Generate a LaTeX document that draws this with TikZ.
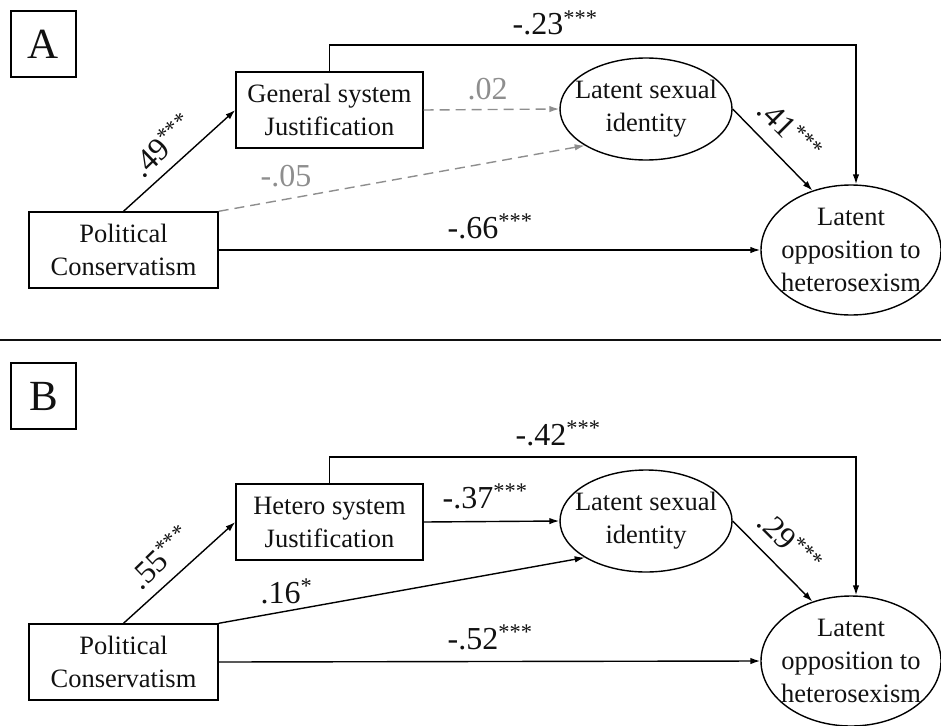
\documentclass[tikz,border=0pt]{standalone}
\usepackage{fontspec}
\setmainfont{Liberation Serif}
\usetikzlibrary{shapes.geometric,arrows.meta}
\definecolor{FontColor}{HTML}{111111}
\definecolor{GrayPath}{HTML}{8E8E8E}
\newcommand\nodepc{Political\\Conservatism}
\newcommand\nodegsj{General system\\Justification}
\newcommand\nodehsj{Hetero system\\Justification}
\newcommand\nodelsi{Latent sexual\\identity}
\newcommand\nodelo{Latent\\opposition to\\heterosexism}
\newcommand\sig[1]{\textsuperscript{#1}}
\tikzstyle{boxnode} = [rectangle, draw, align=center, text=FontColor, inner sep=0pt, font=\fontsize{26.5}{33}\selectfont]
\tikzstyle{pcbox} = [boxnode, minimum width=189pt, minimum height=76pt]
\tikzstyle{sjbox} = [boxnode, minimum width=187pt, minimum height=76pt]
\tikzstyle{panel} = [boxnode, minimum width=65pt, minimum height=66pt, font=\fontsize{43}{45}\selectfont]
\tikzstyle{lat} = [ellipse, draw, align=center, text=FontColor, inner xsep=-15pt, inner ysep=-10pt, font=\fontsize{26.5}{33}\selectfont]
\tikzstyle{lsi} = [lat, minimum width=172pt, minimum height=102pt]
\tikzstyle{lo} = [lat, minimum width=180pt, minimum height=130pt]
\tikzstyle{coef} = [inner sep=0pt, anchor=base west, text=FontColor, font=\fontsize{32}{34}\selectfont]
\tikzstyle{ns} = [coef, text=GrayPath]
\tikzstyle{tilted} = [inner sep=0pt, text=FontColor, font=\fontsize{32}{34}\selectfont]
\tikzstyle{nspath} = [GrayPath, dash pattern=on 10pt off 6pt]
\tikzset{>={Latex[length=10pt,width=6.5pt]}, every picture/.style={line width=1.4pt}}

\begin{document}
\begin{tikzpicture}[x=1pt, y=-1pt]
\useasboundingbox (0,0) rectangle (941,725);
% panel A
\node[panel] (pa) at (43.5, 44) {A};
\node[pcbox] (pca) at (123.5, 250) {\nodepc};
\node[sjbox] (gsja) at (329.5, 110) {\nodegsj};
\node[lsi] (lsia) at (646, 109) {\nodelsi};
\node[lo] (loa) at (851, 250) {\nodelo};
\coordinate (ta) at (856, 45);
\draw [->] (pca.north) -- (gsja.west);
\draw [->, nspath] (gsja.east) -- (lsia.west);
\draw [->, nspath] (pca.north east) -- (lsia.south west);
\draw [->] (pca.east) -- (loa.west);
\draw [->] (lsia.east) -- (loa.123);
\draw [->] (gsja.north) |- (ta) -- (ta |- loa.north);
\node[coef] (c23) at (512, 35) {-.23\sig{***}};
\node[ns] (c02) at (467, 99) {.02};
\node[ns] (c05) at (260, 186) {-.05};
\node[coef] (c66) at (447, 238) {-.66\sig{***}};
\node[tilted, rotate=44] (c49) at (162, 145) {.49\sig{***}};
\node[tilted, rotate=-45] (c41) at (790, 130) {.41\sig{***}};
% separator
\draw [line width=2pt, FontColor] (0, 340) -- (941, 340);
% panel B
\node[panel] (pb) at (43.5, 396) {B};
\node[pcbox] (pcb) at (123.5, 662) {\nodepc};
\node[sjbox] (hsjb) at (329.5, 522) {\nodehsj};
\node[lsi] (lsib) at (646, 521) {\nodelsi};
\node[lo] (lob) at (851, 661) {\nodelo};
\coordinate (tb) at (856, 457);
\draw [->] (pcb.north) -- (hsjb.west);
\draw [->] (hsjb.east) -- (lsib.west);
\draw [->] (pcb.north east) -- (lsib.south west);
\draw [->] (pcb.east) -- (lob.west);
\draw [->] (lsib.east) -- (lob.123);
\draw [->] (hsjb.north) |- (tb) -- (tb |- lob.north);
\node[coef] (c42) at (515, 445) {-.42\sig{***}};
\node[coef] (c37) at (442, 508) {-.37\sig{***}};
\node[coef] (c16) at (260, 603) {.16\sig{*}};
\node[coef] (c52) at (447, 649) {-.52\sig{***}};
\node[tilted, rotate=44] (c55) at (160, 557) {.55\sig{***}};
\node[tilted, rotate=-45] (c29) at (790, 542) {.29\sig{***}};
\end{tikzpicture}
\end{document}
